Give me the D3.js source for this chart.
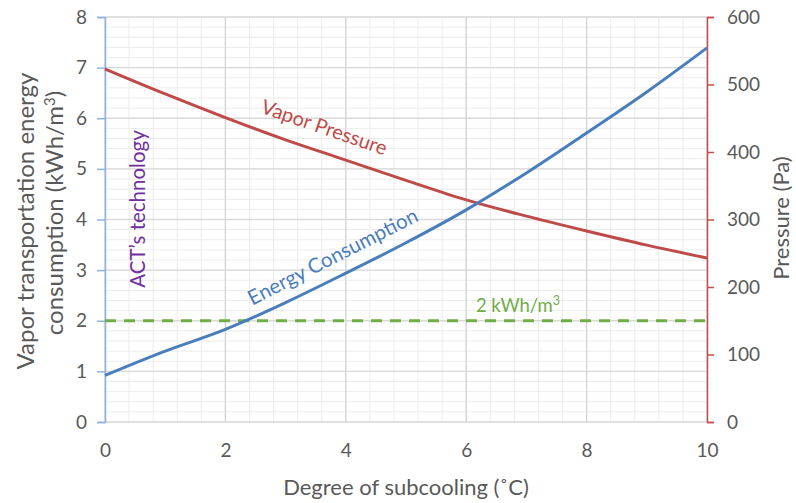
<!DOCTYPE html>
<html><head><meta charset="utf-8">
<script src="https://cdn.jsdelivr.net/npm/d3@7"></script>
<style>body{margin:0;background:#fff;} svg{display:block;font-family:Lato,"Open Sans",sans-serif;}</style>
</head><body><svg id="c" width="796" height="503"></svg>
<script>
const subcooling = [0,1,2,3,4,5,6,7,8,9,10];
const energy = [0.92,1.40,1.83,2.36,2.94,3.54,4.19,4.92,5.71,6.52,7.39];
const pressure = [523,486,451,418,388,358,329,305,283,262,243];
const threshold = 2;
const xTicks = [0,2,4,6,8,10];
const yLeftTicks = [0,1,2,3,4,5,6,7,8];
const yRightTicks = [0,100,200,300,400,500,600];

const svg = d3.select("#c");
const L=105, R=707, T=17, B=422;
const x = d3.scaleLinear().domain([0,10]).range([L,R]);
const yL = d3.scaleLinear().domain([0,8]).range([B,T]);
const yR = d3.scaleLinear().domain([0,600]).range([B,T]);

// minor grid
const g = svg.append("g");
d3.range(0,10.001,0.4).forEach(v=>{
  g.append("line").attr("x1",x(v)).attr("x2",x(v)).attr("y1",T).attr("y2",B).attr("stroke","#ececec").attr("stroke-width",1);
});
d3.range(0,8.001,0.2).forEach(v=>{
  g.append("line").attr("x1",L).attr("x2",R).attr("y1",yL(v)).attr("y2",yL(v)).attr("stroke","#ececec").attr("stroke-width",1);
});
// major grid
xTicks.forEach(v=>{
  g.append("line").attr("x1",x(v)).attr("x2",x(v)).attr("y1",T).attr("y2",B).attr("stroke","#d4d4d4").attr("stroke-width",1.3);
});
yLeftTicks.forEach(v=>{
  g.append("line").attr("x1",L).attr("x2",R).attr("y1",yL(v)).attr("y2",yL(v)).attr("stroke","#d9d9d9").attr("stroke-width",1.3);
});

// axes
const axL = svg.append("g").attr("transform",`translate(${L},0)`)
  .call(d3.axisLeft(yL).tickValues(yLeftTicks).tickSize(8).tickPadding(10));
axL.select(".domain").attr("stroke","#8db3e2").attr("stroke-width",1.5);
axL.selectAll(".tick line").attr("stroke","#8db3e2").attr("stroke-width",1.5);
axL.selectAll("text").attr("fill","#595959").attr("font-size",19).attr("font-family","Lato,sans-serif");

const axR = svg.append("g").attr("transform",`translate(${R},0)`)
  .call(d3.axisRight(yR).tickValues(yRightTicks).tickSize(7).tickPadding(13));
axR.select(".domain").attr("stroke","#c0504d").attr("stroke-width",1.5);
axR.selectAll(".tick line").attr("stroke","#c0504d").attr("stroke-width",1.5);
axR.selectAll("text").attr("fill","#595959").attr("font-size",19).attr("font-family","Lato,sans-serif");

const axB = svg.append("g").attr("transform",`translate(0,${B})`)
  .call(d3.axisBottom(x).tickValues(xTicks).tickSize(0).tickPadding(22));
axB.select(".domain").remove();
axB.selectAll("text").attr("fill","#595959").attr("font-size",19).attr("font-family","Lato,sans-serif");

// threshold
svg.append("line").attr("x1",x(0)).attr("x2",x(10)).attr("y1",yL(threshold)).attr("y2",yL(threshold))
  .attr("stroke","#70ad47").attr("stroke-width",3).attr("stroke-dasharray","11,8");

// lines
const lineE = d3.line().x((d,i)=>x(subcooling[i])).y(d=>yL(d)).curve(d3.curveMonotoneX);
const lineP = d3.line().x((d,i)=>x(subcooling[i])).y(d=>yR(d)).curve(d3.curveMonotoneX);
svg.append("path").attr("d",lineP(pressure)).attr("fill","none").attr("stroke","#be4b48").attr("stroke-width",3);
svg.append("path").attr("d",lineE(energy)).attr("fill","none").attr("stroke","#4a7ebb").attr("stroke-width",3);

// annotations
svg.append("text").attr("transform","translate(322,134) rotate(19)").attr("text-anchor","middle")
  .attr("font-size",20).attr("fill","#be4b48").text("Vapor Pressure");
svg.append("text").attr("transform","translate(336,263) rotate(-27)").attr("text-anchor","middle")
  .attr("font-size",20.5).attr("fill","#4a7ebb").text("Energy Consumption");
const gt = svg.append("text").attr("x",518).attr("y",312).attr("text-anchor","middle")
  .attr("font-size",18.5).attr("fill","#70ad47");
gt.append("tspan").text("2 kWh/m");
gt.append("tspan").attr("dy",-7).attr("font-size",12.5).text("3");
svg.append("text").attr("transform","translate(145,209) rotate(-90)").attr("text-anchor","middle")
  .attr("font-size",20.5).attr("fill","#7030a0").text("ACT’s technology");

// axis titles
svg.append("text").attr("transform","translate(34,221) rotate(-90)").attr("text-anchor","middle")
  .attr("font-size",24).attr("fill","#595959").text("Vapor transportation energy");
const lt2 = svg.append("text").attr("transform","translate(63,213) rotate(-90)").attr("text-anchor","middle")
  .attr("font-size",24).attr("fill","#595959");
lt2.append("tspan").text("consumption (kWh/m");
lt2.append("tspan").attr("dy",-8).attr("font-size",15).text("3");
lt2.append("tspan").attr("dy",8).text(")");
svg.append("text").attr("transform","translate(789,218) rotate(-90)").attr("text-anchor","middle")
  .attr("font-size",22).attr("fill","#595959").text("Pressure (Pa)");
svg.append("text").attr("x",406).attr("y",495).attr("text-anchor","middle")
  .attr("font-size",22).attr("fill","#595959").text("Degree of subcooling (˚C)");
</script></body></html>
